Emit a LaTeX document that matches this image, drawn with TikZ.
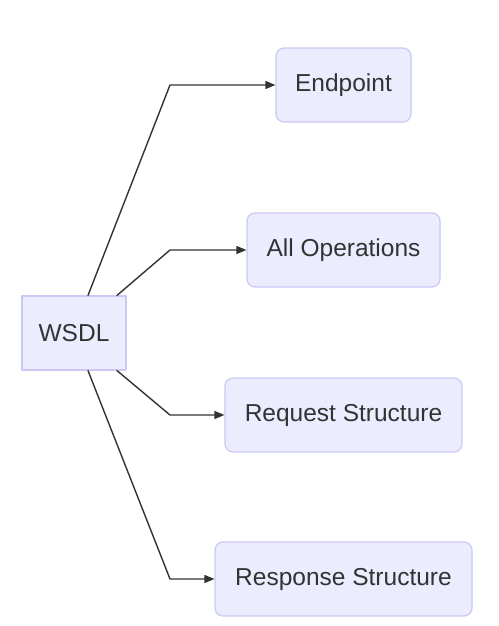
\documentclass[tikz,border=0pt]{standalone}
\usepackage{fontspec}
\setmainfont{Liberation Sans}
\usepackage{tikz}
\usepackage{xcolor}
\usetikzlibrary{arrows.meta,positioning}
\definecolor{boxfill}{RGB}{236,236,255}
\definecolor{boxline}{RGB}{204,200,245}
\definecolor{ink}{RGB}{51,51,51}

\begin{document}
\begin{tikzpicture}[x=1pt,y=-1pt,
          line cap=round,line join=round,
          base/.style={draw=boxline,fill=boxfill,line width=1.2pt,text=ink,
                       font=\fontsize{24.5}{28}\selectfont,minimum height=74pt,inner sep=0pt},
          root/.style={base,minimum width=104pt},
          leaf/.style={base,rounded corners=8pt},
          link/.style={draw=ink,line width=1.4pt,-{Triangle[length=10pt,width=8pt]}}]
        \useasboundingbox (0,0) rectangle (498,626);

        \node[root] (wsdl) at (74,333) {WSDL};
        \node[leaf,minimum width=135pt] (ep) at (343.5,85) {Endpoint};
        \node[leaf,minimum width=193pt] (ops) at (343.5,250) {All Operations};
        \node[leaf,minimum width=237pt] (req) at (343.5,415) {Request Structure};
        \node[leaf,minimum width=257pt] (resp) at (343.5,579) {Response Structure};

        \coordinate (trunk) at (170,0);

        \draw[link] ([xshift=14pt]wsdl.north) -- (ep.west -| trunk) -- (ep.west);
        \draw[link] ([xshift=43pt]wsdl.north) -- (ops.west -| trunk) -- (ops.west);
        \draw[link] ([xshift=43pt]wsdl.south) -- (req.west -| trunk) -- (req.west);
        \draw[link] ([xshift=14pt]wsdl.south) -- (resp.west -| trunk) -- (resp.west);
      \end{tikzpicture}
\end{document}
